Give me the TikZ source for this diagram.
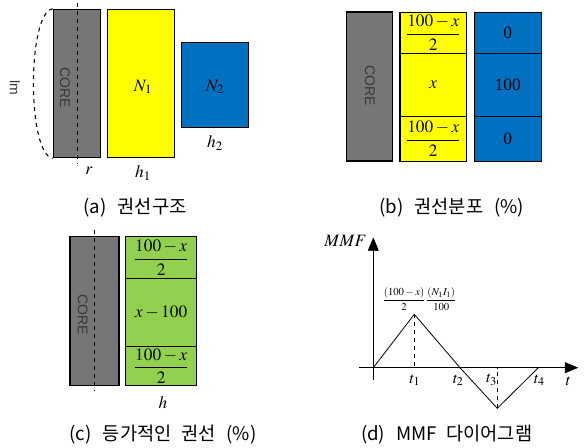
\documentclass[tikz,border=0pt]{standalone}
\usepackage{amsmath}
\usepackage{mathptmx}
\usepackage[no-math]{fontspec}
\setmainfont{Liberation Serif}
\setsansfont{Liberation Sans}
\newfontfamily\krfont{Noto Sans CJK KR}
\usepackage{xcolor}
\usepackage{tikz}
\usetikzlibrary{arrows.meta}

\definecolor{coregray}{RGB}{118,118,118}
\definecolor{coretext}{RGB}{55,55,55}
\definecolor{coilyellow}{RGB}{255,255,0}
\definecolor{coilblue}{RGB}{0,112,192}
\definecolor{coilgreen}{RGB}{146,208,80}

\begin{document}
\begin{tikzpicture}[
  x=0.75pt,y=0.75pt,
  box/.style={draw,line width=0.8pt,inner sep=0pt},
  coretxt/.style={font=\sffamily\fontsize{10.5}{12}\selectfont,text=coretext,rotate=-90,inner sep=0pt},
  lbl/.style={font=\fontsize{13}{15}\selectfont,inner sep=0pt},
  tlbl/.style={font=\fontsize{12}{14}\selectfont,inner sep=0pt},
  caption/.style={font=\krfont\fontsize{14}{16}\selectfont,inner sep=0pt},
  axisline/.style={line width=0.8pt,-{Stealth[length=9pt,width=7pt,inset=0pt]}}
]
  \useasboundingbox (0,0) rectangle (588,-447);

  % (a) winding structure
  \node[box,fill=coregray,minimum width=35.25pt,minimum height=111.3pt] (coreA) at (76.8,-83.5) {};
  \node[coretxt] (coreAtxt) at (65,-88) {CORE};
  \coordinate (axisAtop) at (77.3,-3);
  \coordinate (axisAbot) at (77.3,-164);
  \draw[dashed,line width=0.8pt] (axisAtop) -- (axisAbot);
  \draw[dashed,line width=0.8pt] (coreA.north west) .. controls (27,-12) and (27,-155) .. (coreA.south west);
  \node[coretxt] (lm) at (15,-88) {lm};
  \node[box,fill=coilyellow,minimum width=50.25pt,minimum height=111.3pt] (coilN1) at (140.8,-83.5) {};
  \node[lbl] at (143,-87) {$N_1$};
  \node[box,fill=coilblue,minimum width=50.25pt,minimum height=64pt] (coilN2) at (215.2,-84.7) {};
  \node[lbl] at (215,-87) {$N_2$};
  \node[lbl] (rA) at (89,-171) {$r$};
  \node[lbl] (h1) at (143,-173) {$h_1$};
  \node[lbl] (h2) at (215,-143) {$h_2$};
  \node[caption] (capA) at (135,-208) {(a)\hspace{0.6em}권선구조};

  % (b) winding distribution
  \node[box,fill=coregray,minimum width=34.5pt,minimum height=111.75pt] (coreB) at (369.7,-86.5) {};
  \node[coretxt] (coreBtxt) at (370,-86) {CORE};
  \node[box,fill=coilyellow,minimum width=50pt,minimum height=31pt,lbl] (ytop) at (433.3,-32.7) {$\dfrac{100-x}{2}$};
  \node[box,fill=coilyellow,minimum width=50pt,minimum height=47.25pt,lbl] (ymid) at (433.3,-84.8) {$x$};
  \node[box,fill=coilyellow,minimum width=50pt,minimum height=33.5pt,lbl] (ybot) at (433.3,-138.7) {$\dfrac{100-x}{2}$};
  \node[box,fill=coilblue,minimum width=50.25pt,minimum height=31pt,lbl] (btop) at (507.8,-32.7) {0};
  \node[box,fill=coilblue,minimum width=50.25pt,minimum height=47.25pt,lbl] (bmid) at (507.8,-84.8) {100};
  \node[box,fill=coilblue,minimum width=50.25pt,minimum height=33.5pt,lbl] (bbot) at (507.8,-138.7) {0};
  \node[caption] (capB) at (451.7,-208) {(b)\hspace{0.6em}권선분포\hspace{0.6em}(\%)};

  % (c) equivalent winding
  \node[box,fill=coregray,minimum width=36.75pt,minimum height=111.75pt] (coreC) at (94.5,-311.2) {};
  \node[coretxt] (coreCtxt) at (82.7,-315) {CORE};
  \coordinate (axisCtop) at (94.7,-230);
  \coordinate (axisCbot) at (94.7,-391);
  \draw[dashed,line width=0.8pt] (axisCtop) -- (axisCbot);
  \node[box,fill=coilgreen,minimum width=53.25pt,minimum height=31.2pt,lbl] (gtop) at (161.2,-257.5) {$\dfrac{100-x}{2}$};
  \node[box,fill=coilgreen,minimum width=53.25pt,minimum height=51.3pt,lbl] (gmid) at (161.2,-312.5) {$x-100$};
  \node[box,fill=coilgreen,minimum width=53.25pt,minimum height=29.25pt,lbl] (gbot) at (161.2,-366.2) {$\dfrac{100-x}{2}$};
  \node[lbl] (hC) at (163,-403) {$h$};
  \node[caption] (capC) at (163,-435) {(c)\hspace{0.6em}등가적인\hspace{0.5em}권선\hspace{0.6em}(\%)};

  % (d) MMF diagram
  \coordinate (org) at (373.3,-367.7);
  \coordinate (yaxbot) at (373.3,-380);
  \coordinate (yaxtop) at (373.3,-238.3);
  \coordinate (xaxl) at (359.3,-367.7);
  \coordinate (xaxr) at (577.3,-367.7);
  \coordinate (peak) at (414.3,-314.3);
  \coordinate (foot1) at (414.3,-367.7);
  \coordinate (zero2) at (460,-367.7);
  \coordinate (trough) at (497.3,-408.3);
  \coordinate (foot3) at (497.3,-367.7);
  \coordinate (zero4) at (538.3,-367.7);
  \draw[axisline] (yaxbot) -- (yaxtop);
  \draw[axisline] (xaxl) -- (xaxr);
  \filldraw[black,line width=0.5pt] (yaxtop) -- ++(-5,-12) -- ++(10,0) -- cycle;
  \filldraw[black,line width=0.5pt] (xaxr) -- ++(-12,5) -- ++(0,-10) -- cycle;
  \draw[line width=0.6pt] (org) -- (peak) -- (zero2) -- (trough) -- (zero4);
  \draw[dashed,line width=0.8pt] (peak) -- (foot1);
  \draw[dashed,line width=0.8pt] (trough) -- (foot3);
  \node[tlbl,anchor=east,font=\fontsize{13}{15}\selectfont] (mmf) at (367,-241) {$MMF$};
  \node[font=\fontsize{8}{9}\selectfont,inner sep=0pt] (peaklbl) at (419.5,-299) {$\dfrac{(100-x)}{2}\dfrac{(N_1I_1)}{100}$};
  \node[tlbl] (lt1) at (415,-380) {$t_1$};
  \node[tlbl] (lt2) at (458.3,-380) {$t_2$};
  \node[tlbl] (lt3) at (491.7,-380) {$t_3$};
  \node[tlbl] (lt4) at (539.3,-380) {$t_4$};
  \node[tlbl] (lt) at (568.3,-381.7) {$t$};
  \node[caption] (capD) at (446.7,-435) {(d)\hspace{0.6em}MMF\hspace{0.5em}다이어그램};
\end{tikzpicture}
\end{document}
